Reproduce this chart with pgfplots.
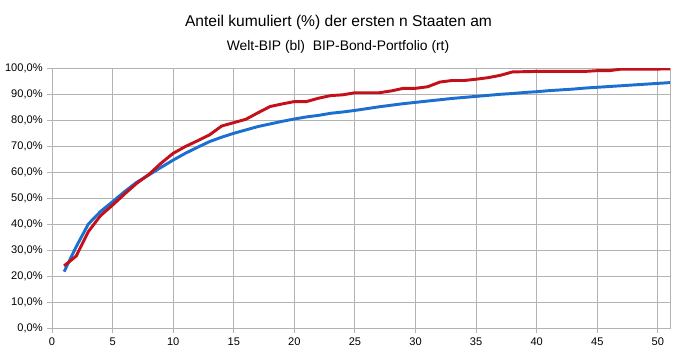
\documentclass[border=0pt]{standalone}
\usepackage{pgfplots}
\pgfplotsset{compat=1.18}
\usepackage{fontspec}
\setmainfont{Liberation Sans}
\definecolor{myblue}{HTML}{1C6FCF}
\definecolor{myred}{HTML}{C4101A}
\definecolor{gridgray}{HTML}{B3B3B3}
\begin{document}
\begin{tikzpicture}
\path[use as bounding box] (0pt,0pt) rectangle (510pt,-272.25pt);
\node[anchor=base,font=\fontsize{11.7pt}{14pt}\selectfont,inner sep=0pt] at (253.9pt,-20.25pt) {Anteil kumuliert (\%) der ersten n Staaten am};
\node[anchor=base,font=\fontsize{10.4pt}{12pt}\selectfont,inner sep=0pt] at (253.5pt,-38.25pt) {Welt-BIP (bl)\ \ BIP-Bond-Portfolio (rt)};
\begin{axis}[
  at={(39pt,-246.225pt)}, anchor=south west,
  scale only axis, width=463.5pt, height=195pt,
  xmin=0, xmax=51, ymin=0, ymax=100,
  xtick={0,5,...,50}, ytick={0,10,...,100},
  yticklabel={\pgfmathprintnumber[fixed,fixed zerofill,precision=1,use comma]{\tick}\%},
  xticklabel style={font=\fontsize{8.3pt}{10pt}\selectfont},
  yticklabel style={font=\fontsize{8.3pt}{10pt}\selectfont},
  /pgf/number format/assume math mode=true,
  grid=major, major grid style={gridgray, line width=0.75pt},
  axis line style={gridgray, line width=0.75pt},
  tick style={gridgray, line width=0.75pt},
  tick align=outside, major tick length=3.5pt,
  xtick pos=bottom, ytick pos=left,
  clip=true,
]
\addplot[myblue, line width=2.2pt] coordinates {
(1,21.8)(2,31.4)(3,40.1)(4,44.9)(5,48.7)(6,52.6)(7,56.2)(8,59.0)(9,61.9)(10,64.7)
(11,67.3)(12,69.6)(13,71.8)(14,73.5)(15,75.0)(16,76.3)(17,77.6)(18,78.6)(19,79.6)(20,80.5)
(21,81.3)(22,81.9)(23,82.7)(24,83.2)(25,83.8)(26,84.5)(27,85.2)(28,85.8)(29,86.4)(30,86.9)
(31,87.4)(32,87.9)(33,88.4)(34,88.8)(35,89.2)(36,89.6)(37,90.0)(38,90.3)(39,90.7)(40,91.0)
(41,91.4)(42,91.7)(43,92.0)(44,92.4)(45,92.7)(46,93.0)(47,93.3)(48,93.6)(49,93.9)(50,94.2)(51,94.5)
};
\addplot[myred, line width=2.2pt] coordinates {
(1,24.0)(2,27.8)(3,37.2)(4,43.3)(5,47.4)(6,51.7)(7,55.8)(8,59.2)(9,63.5)(10,67.3)
(11,69.9)(12,72.1)(13,74.4)(14,77.8)(15,79.1)(16,80.4)(17,82.9)(18,85.3)(19,86.3)(20,87.2)
(21,87.2)(22,88.5)(23,89.5)(24,89.8)(25,90.6)(26,90.6)(27,90.6)(28,91.3)(29,92.3)(30,92.3)
(31,92.9)(32,94.7)(33,95.3)(34,95.3)(35,95.8)(36,96.4)(37,97.3)(38,98.6)(39,98.7)(40,98.8)
(41,98.8)(42,98.8)(43,98.8)(44,98.8)(45,99.1)(46,99.1)(47,99.7)(48,99.7)(49,99.7)(50,99.7)(51,99.8)
};
\end{axis}
\end{tikzpicture}
\end{document}
